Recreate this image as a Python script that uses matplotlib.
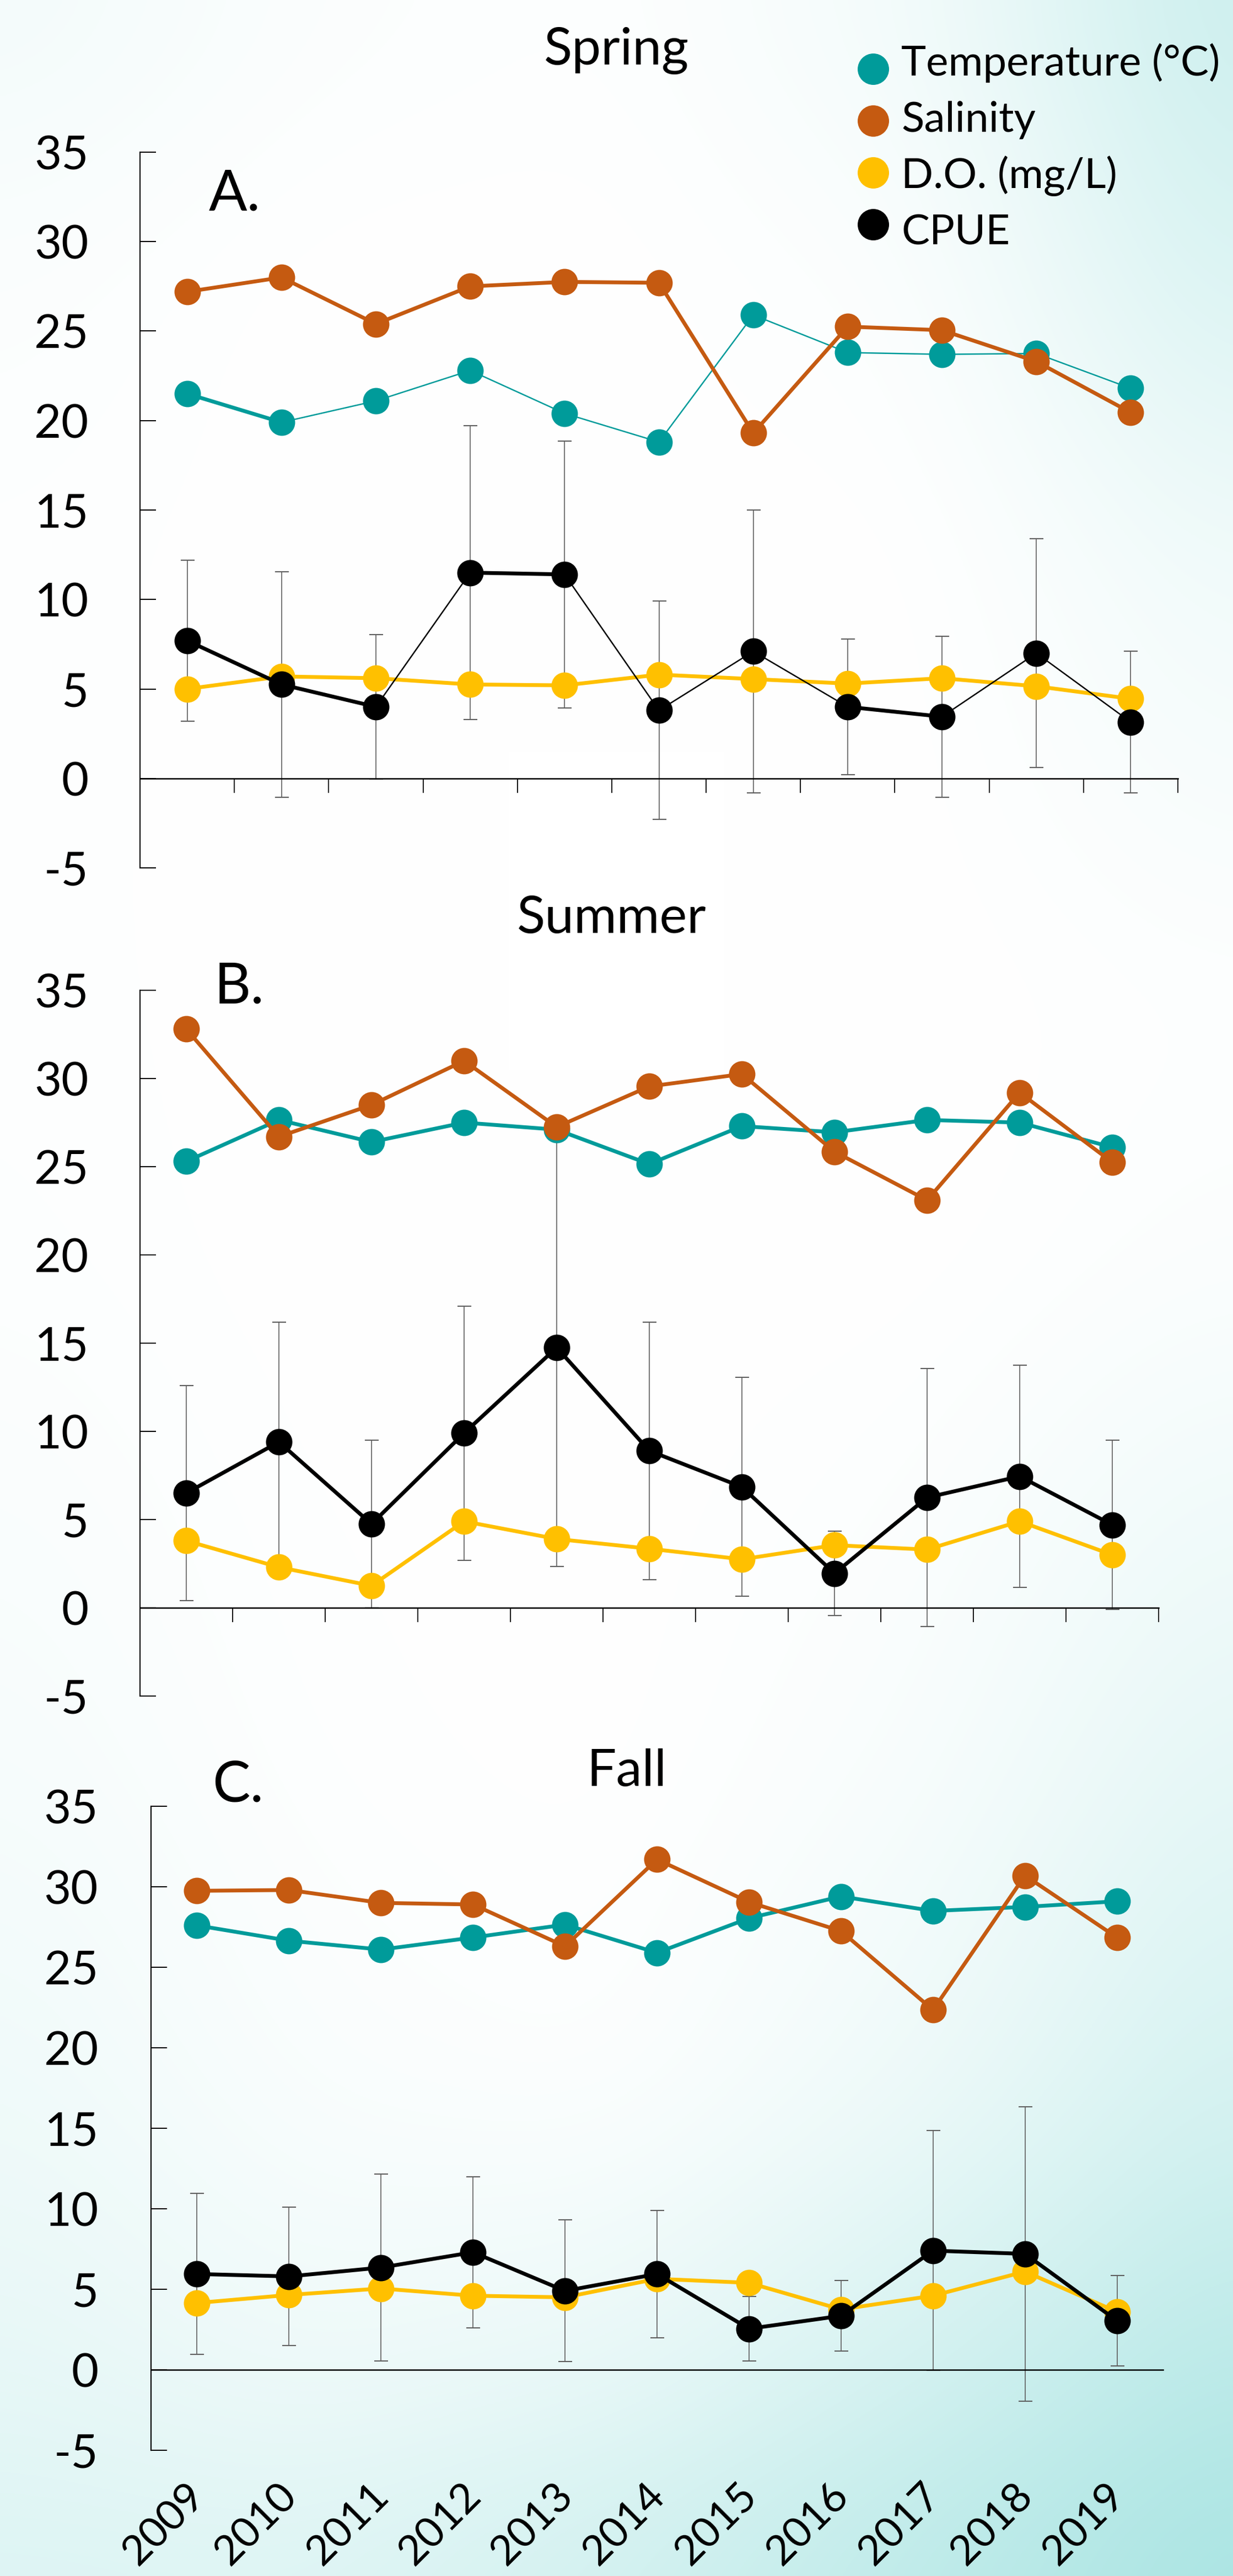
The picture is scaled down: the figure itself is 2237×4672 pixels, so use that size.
import numpy as np
import matplotlib
matplotlib.use("Agg")
import matplotlib.pyplot as plt
from matplotlib.collections import LineCollection
from matplotlib.transforms import blended_transform_factory

plt.rcParams['font.family'] = ['Lato', 'DejaVu Sans']
plt.rcParams['axes.unicode_minus'] = False

# ---------------- data ----------------
years = ['2009', '2010', '2011', '2012', '2013', '2014',
         '2015', '2016', '2017', '2018', '2019']
series_names = ['Temperature (°C)', 'Salinity', 'D.O. (mg/L)', 'CPUE']

spring_temp = [21.5, 19.9, 21.1, 22.8, 20.4, 18.8, 25.9, 23.8, 23.7, 23.75, 21.8]
spring_sal = [27.2, 28.0, 25.4, 27.5, 27.75, 27.7, 19.3, 25.25, 25.05, 23.3, 20.45]
spring_do = [5.0, 5.7, 5.6, 5.25, 5.2, 5.8, 5.55, 5.3, 5.6, 5.15, 4.45]
spring_cpue = [7.7, 5.25, 4.0, 11.5, 11.4, 3.8, 7.1, 4.0, 3.45, 7.0, 3.15]
spring_cpue_err = [4.5, 6.3, 4.05, 8.2, 7.45, 6.1, 7.9, 3.8, 4.5, 6.4, 3.95]

summer_temp = [25.3, 27.65, 26.4, 27.5, 27.1, 25.15, 27.3, 26.95, 27.65, 27.5, 26.1]
summer_sal = [32.8, 26.7, 28.5, 31.0, 27.25, 29.55, 30.25, 25.85, 23.1, 29.2, 25.25]
summer_do = [3.8, 2.3, 1.25, 4.9, 3.9, 3.35, 2.75, 3.55, 3.3, 4.9, 3.0]
summer_cpue = [6.5, 9.4, 4.75, 9.9, 14.75, 8.9, 6.85, 1.95, 6.25, 7.45, 4.7]
summer_cpue_err = [6.1, 6.8, 4.75, 7.2, 12.4, 7.3, 6.2, 2.4, 7.3, 6.3, 4.8]

fall_temp = [27.6, 26.65, 26.1, 26.85, 27.65, 25.9, 28.05, 29.4, 28.5, 28.75, 29.1]
fall_sal = [29.75, 29.8, 29.0, 28.9, 26.3, 31.7, 29.05, 27.25, 22.35, 30.7, 26.85]
fall_do = [4.15, 4.65, 5.05, 4.6, 4.5, 5.65, 5.4, 3.75, 4.6, 6.1, 3.6]
fall_cpue = [5.95, 5.8, 6.35, 7.3, 4.9, 5.95, 2.55, 3.35, 7.4, 7.2, 3.05]
fall_cpue_err = [5.0, 4.3, 5.8, 4.7, 4.4, 3.95, 2.0, 2.2, 7.45, 9.15, 2.8]

# ---------------- style ----------------
COLORS = ['#009B9A', '#C55A11', '#FFC000', '#000000']
ERR_COLOR = '#5E5E5E'
THICK, THIN = 5.0, 1.8
N_SEG = len(years) - 1
uniform = [THICK] * N_SEG
spring_widths = [
    [THICK] + [THIN] * (N_SEG - 1),
    uniform,
    uniform,
    [THICK, THICK, THIN, THICK, THIN, THIN, THIN, THICK, THIN, THIN],
]
other_widths = [uniform, uniform, uniform, uniform]

W, H, DPI = 2237, 4672, 100
fig = plt.figure(figsize=(W / DPI, H / DPI), dpi=DPI)

# ---------------- background wash ----------------
bg_x = [0, 560, 1120, 1680, 2237]
bg_y = [0, 480, 1000, 1800, 2300, 3200, 3800, 4300, 4672]
bg_t = np.array([
    [0.15, 0.05, 0.02, 0.15, 0.62],
    [0.05, 0.00, 0.00, 0.05, 0.45],
    [0.02, 0.00, 0.00, 0.00, 0.18],
    [0.02, 0.00, 0.00, 0.00, 0.02],
    [0.03, 0.00, 0.00, 0.00, 0.05],
    [0.10, 0.02, 0.00, 0.08, 0.30],
    [0.18, 0.06, 0.03, 0.20, 0.50],
    [0.28, 0.18, 0.25, 0.50, 0.80],
    [0.40, 0.40, 0.55, 0.78, 1.00],
])
nx, ny = 280, 584
gx = np.linspace(0, W, nx)
gy = np.linspace(0, H, ny)
rows = np.array([np.interp(gx, bg_x, r) for r in bg_t])
field = np.array([np.interp(gy, bg_y, rows[:, j]) for j in range(nx)]).T
k = 31
kern = np.ones(k) / k


def smooth(v):
    return np.convolve(np.pad(v, k // 2, mode='edge'), kern, mode='valid')


for _ in range(3):
    field = np.apply_along_axis(smooth, 0, field)
    field = np.apply_along_axis(smooth, 1, field)
white = np.ones(3)
tint = np.array([0xA8, 0xE4, 0xE2]) / 255.0
rgb = np.clip(white + field[..., None] * (tint - white), 0, 1)

bg = fig.add_axes([0, 0, 1, 1], zorder=-5)
bg.imshow(rgb, extent=[0, W, H, 0], aspect='auto', interpolation='bilinear')
bg.set_xlim(0, W)
bg.set_ylim(H, 0)
bg.axis('off')


# ---------------- panels ----------------
def make_panel(left, top, right, bottom, label_pad, boundary_ticks):
    ax = fig.add_axes([left / W, 1 - bottom / H, (right - left) / W, (bottom - top) / H])
    ax.set_xlim(-0.5, len(years) - 0.5)
    ax.set_ylim(-5, 35)
    ax.patch.set_visible(False)
    for s in ('top', 'right'):
        ax.spines[s].set_visible(False)
    ax.spines['left'].set_linewidth(1.6)
    ax.spines['bottom'].set_position(('data', 0))
    ax.spines['bottom'].set_linewidth(1.8)
    ax.set_yticks(np.arange(-5, 36, 5))
    ax.tick_params(axis='y', direction='in', length=21, width=1.4,
                   pad=label_pad, labelsize=61)
    if boundary_ticks:
        ax.set_xticks(np.arange(-0.5, len(years), 1))
        ax.tick_params(axis='x', direction='out', length=19, width=1.3,
                       labelbottom=False)
    else:
        ax.set_xticks([])
    return ax


def draw(ax, temp, sal, do, cpue, err, widths):
    x = np.arange(len(years))
    ax.errorbar(x, cpue, yerr=err, fmt='none', ecolor=ERR_COLOR,
                elinewidth=1.2, capsize=9, capthick=1.5, zorder=1.5)
    for z, (vals, color, w) in enumerate(zip([temp, sal, do, cpue], COLORS, widths)):
        pts = np.column_stack([x, vals])
        segs = np.stack([pts[:-1], pts[1:]], axis=1)
        ax.add_collection(LineCollection(segs, colors=color, linewidths=w,
                                         capstyle='round', zorder=2 + z))
        ax.plot(x, vals, ls='none', marker='o', ms=34.5, color=color,
                mec='none', zorder=2.5 + z)


axA = make_panel(254, 276, 2137, 1574, 67.5, True)
draw(axA, spring_temp, spring_sal, spring_do, spring_cpue, spring_cpue_err, spring_widths)

axB = make_panel(254, 1796, 2102, 3076, 67.5, True)
draw(axB, summer_temp, summer_sal, summer_do, summer_cpue, summer_cpue_err, other_widths)

axC = make_panel(274, 3276, 2110, 4444, 69, False)
draw(axC, fall_temp, fall_sal, fall_do, fall_cpue, fall_cpue_err, other_widths)

# year labels under the bottom panel, slanted
trans = blended_transform_factory(axC.transData, axC.transAxes)
for i, yr in enumerate(years):
    axC.text(i - 0.13, -0.040, yr, transform=trans, rotation=45, ha='right',
             va='top', rotation_mode='anchor', fontsize=55, clip_on=False)

# ---------------- titles and panel letters ----------------
for txt, x, y in [('Spring', 1119, 117), ('Summer', 1110, 1692), ('Fall', 1137, 3239)]:
    fig.text(x / W, 1 - y / H, txt, fontsize=68, ha='center', va='baseline')
for txt, x, y in [('A.', 379, 382), ('B.', 389, 1819), ('C.', 385, 3267)]:
    fig.text(x / W, 1 - y / H, txt, fontsize=74, ha='left', va='baseline')

# ---------------- legend ----------------
for i, (name, color) in enumerate(zip(series_names, COLORS)):
    bg.plot(1584, 125 + 94 * i, 'o', ms=41, color=color, mec='none', clip_on=False)
    bg.text(1635, 137 + 102 * i, name, fontsize=55, ha='left', va='baseline')

fig.savefig('out.png', dpi=DPI)
